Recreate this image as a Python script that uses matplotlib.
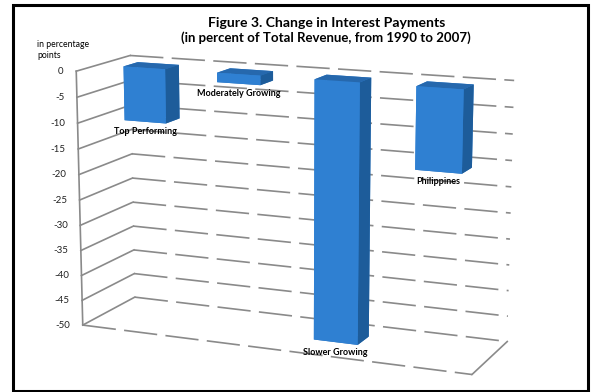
import matplotlib
matplotlib.use('Agg')
import matplotlib.pyplot as plt
import numpy as np
from matplotlib.patches import Rectangle
from mpl_toolkits.mplot3d import proj3d

categories = ['Top Performing', 'Moderately Growing', 'Slower Growing', 'Philippines']
values = [-10.5, -1.8, -50.0, -15.4]
z_ticks = [0, -5, -10, -15, -20, -25, -30, -35, -40, -45, -50]
title_lines = ['Figure 3. Change in Interest Payments',
               '(in percent of Total Revenue, from 1990 to 2007)']
unit_label = 'in percentage\npoints'

plt.rcParams['font.family'] = ['Lato', 'DejaVu Sans']

fig = plt.figure(figsize=(5.91, 3.92), dpi=100)
ax = fig.add_axes([-0.017, -0.297, 0.995, 1.5], projection='3d')
ax.set_proj_type('persp', focal_length=0.6)
ax.view_init(elev=13, azim=-67)
ax.set_axis_off()
ax.set_xticks([])
ax.set_yticks([])
ax.set_zticks([])

n = len(categories)
xs = np.arange(n, dtype=float)
vals = np.array(values)
bar_w, bar_d = 0.45, 0.27
y0 = 0.4

xlim = (-0.5, n - 0.5)
ylim = (0.0, 1.0)
zlim = (min(z_ticks), max(z_ticks))
ax.set_xlim(*xlim)
ax.set_ylim(*ylim)
ax.set_zlim(*zlim)
ax.set_box_aspect((4, 1.1, 2.52), zoom=0.84)

grid_col = '#8a8a8a'
dash = (0, (20, 5))
lw = 1.2
for z in z_ticks:
    ax.plot([xlim[0], xlim[1]], [ylim[1], ylim[1]], [z, z], color=grid_col,
            lw=lw, linestyle=dash, zorder=1)
    ax.plot([xlim[0], xlim[0]], [ylim[0], ylim[1]], [z, z], color=grid_col,
            lw=lw, zorder=1)
ax.plot([xlim[0], xlim[0]], [ylim[0], ylim[0]], [zlim[0], zlim[1]], color=grid_col,
        lw=lw, zorder=1)
ax.plot([xlim[0], xlim[1]], [ylim[0], ylim[0]], [zlim[0], zlim[0]], color=grid_col,
        lw=lw, linestyle=dash, zorder=1)
ax.plot([xlim[1], xlim[1]], [ylim[0], ylim[1]], [zlim[0], zlim[0]], color=grid_col,
        lw=lw, zorder=1)

face_cols = ['#2B72BA', '#2668AD', '#2F80D2', '#2F80D2', '#2F80D2', '#1D5C9A'] * n
bars = ax.bar3d(xs - bar_w / 2, np.full(n, y0), vals, bar_w, bar_d, -vals,
                color=face_cols, shade=False, edgecolor='none')
bars.set_zorder(5)
ax.computed_zorder = False

fig.canvas.draw()
M = ax.M


def to2d(x, y, z):
    x2, y2, _ = proj3d.proj_transform(np.array([x]), np.array([y]), np.array([z]), M)
    return float(x2[0]), float(y2[0])


for z in z_ticks:
    ax.annotate(f'{z}', xy=to2d(xlim[0], ylim[0], z), xycoords='data',
                xytext=(-9, 0), textcoords='offset points', ha='right',
                va='center', fontsize=7, color='#222222', annotation_clip=False)

for xi, v, name in zip(xs, vals, categories):
    ax.annotate(name, xy=to2d(xi, y0, v), xycoords='data', xytext=(0, -4),
                textcoords='offset points', ha='center', va='top', fontsize=6.5,
                fontweight='bold', annotation_clip=False, zorder=20)

fig.text(0.552, 1 - 23 / 392, title_lines[0], ha='center', va='center',
         fontsize=10.1, fontweight='bold')
fig.text(0.552, 1 - 38 / 392, title_lines[1], ha='center', va='center',
         fontsize=9.5, fontweight='bold')
fig.text(37 / 591, 1 - 50 / 392, unit_label, ha='left', va='center', fontsize=6.2,
         linespacing=1.25)

fig.patches.append(Rectangle((13 / 591, 1 / 392), 575 / 591, 386 / 392,
                             transform=fig.transFigure, fill=False,
                             edgecolor='black', linewidth=2.2))

fig.savefig('out.png', dpi=100)
